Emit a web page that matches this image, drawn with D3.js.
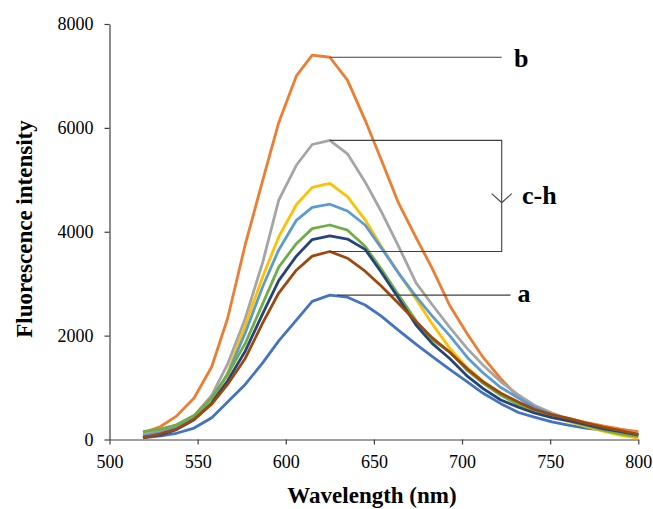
<!DOCTYPE html>
<html>
<head>
<meta charset="utf-8">
<script src="https://cdn.jsdelivr.net/npm/d3@7"></script>
<style>
  html, body { margin: 0; padding: 0; background: #fff; }
  svg { display: block; font-family: "Liberation Serif", "Times New Roman", serif; }
  .axis path, .axis line { stroke: #404040; stroke-width: 1.2; }
  .axis text { font-family: "Liberation Serif", "Times New Roman", serif; font-size: 18px; fill: #000; }
  .title { font-size: 23px; font-weight: bold; fill: #000; }
  .tag { font-size: 26px; font-weight: bold; fill: #000; }
  .leader { stroke: #404040; stroke-width: 1.1; fill: none; }
</style>
</head>
<body>
<div id="chart"></div>
<script>
const W = 653, H = 509;

// wavelength (nm)
const wavelengths = [519, 529, 538, 548, 558, 567, 577, 587, 596, 606, 615, 625, 635, 645, 654,
                     664, 674, 683, 693, 703, 712, 722, 732, 741, 751, 761, 770, 780, 790, 800];

// series a..h (Excel default colour order)
const seriesA = [30, 70, 120, 220, 420, 720, 1060, 1480, 1900, 2300, 2660, 2780, 2740, 2590, 2380,
                 2100, 1830, 1600, 1350, 1110, 890, 690, 520, 430, 340, 270, 220, 180, 140, 100];
const seriesB = [130, 250, 450, 800, 1400, 2330, 3750, 5000, 6100, 7000, 7400, 7360, 6920, 6150, 5400,
                 4550, 3880, 3300, 2580, 2030, 1580, 1170, 820, 590, 480, 400, 330, 260, 200, 150];
const seriesC = [90, 170, 280, 460, 850, 1450, 2330, 3420, 4610, 5280, 5680, 5760, 5500, 4960, 4400,
                 3720, 3010, 2600, 2160, 1750, 1430, 1110, 860, 660, 510, 380, 300, 230, 170, 115];
const seriesD = [70, 120, 220, 400, 720, 1280, 2200, 3140, 3900, 4520, 4855, 4930, 4675, 4230, 3730,
                 3210, 2700, 2230, 1760, 1380, 1120, 890, 690, 540, 430, 340, 250, 160, 80, 25];
const seriesE = [70, 130, 230, 440, 800, 1250, 2050, 2950, 3650, 4220, 4470, 4530, 4400, 4130, 3700,
                 3200, 2750, 2380, 2000, 1580, 1280, 1000, 800, 620, 480, 380, 300, 220, 150, 80];
const seriesF = [150, 200, 280, 460, 800, 1250, 1850, 2620, 3320, 3770, 4060, 4130, 4030, 3720, 3290,
                 2780, 2280, 1920, 1690, 1330, 1080, 850, 670, 540, 440, 360, 270, 180, 110, 55];
const seriesG = [40, 90, 190, 380, 700, 1130, 1700, 2430, 3060, 3530, 3850, 3920, 3860, 3660, 3230,
                 2720, 2200, 1850, 1560, 1220, 980, 760, 620, 510, 420, 360, 290, 210, 150, 90];
const seriesH = [30, 110, 200, 390, 680, 1060, 1560, 2250, 2820, 3260, 3530, 3620, 3490, 3240, 2960,
                 2620, 2270, 1960, 1680, 1360, 1110, 890, 720, 580, 480, 400, 320, 240, 170, 100];

const seriesList = [seriesA, seriesB, seriesC, seriesD, seriesE, seriesF, seriesG, seriesH];
const colors = ["#4472C4", "#ED7D31", "#A5A5A5", "#FFC000", "#5B9BD5", "#70AD47", "#264478", "#9E480E"];

const xTicks = [500, 550, 600, 650, 700, 750, 800];
const yTicks = [0, 2000, 4000, 6000, 8000];

const x = d3.scaleLinear().domain([500, 800]).range([109.5, 638.3]);
const y = d3.scaleLinear().domain([0, 8000]).range([439.5, 24]);

const svg = d3.select("#chart").append("svg")
    .attr("width", W)
    .attr("height", H);

// axes
svg.append("g")
    .attr("class", "axis")
    .attr("transform", `translate(0,${y(0)})`)
    .call(d3.axisBottom(x).tickValues(xTicks).tickSize(5).tickSizeOuter(0).tickPadding(11).tickFormat(d3.format("d")));

svg.append("g")
    .attr("class", "axis")
    .attr("transform", `translate(${x(500)},0)`)
    .call(d3.axisLeft(y).tickValues(yTicks).tickSize(5).tickSizeOuter(0).tickPadding(11).tickFormat(d3.format("d")));

svg.selectAll(".axis").attr("font-family", null).attr("font-size", null);

// curves
const line = d3.line()
    .x((d, i) => x(wavelengths[i]))
    .y(d => y(d));

svg.append("g")
    .selectAll("path")
    .data(seriesList)
    .join("path")
    .attr("d", line)
    .attr("fill", "none")
    .attr("stroke", (d, i) => colors[i])
    .attr("stroke-width", 2.8)
    .attr("stroke-linejoin", "round");

// annotations
const peakI = 11;
const leaderEnd = 722.5;

// b
svg.append("line").attr("class", "leader")
    .attr("x1", x(wavelengths[peakI])).attr("y1", y(seriesB[peakI]))
    .attr("x2", x(leaderEnd)).attr("y2", y(seriesB[peakI]));
svg.append("text").attr("class", "tag")
    .attr("x", x(729.5)).attr("y", y(seriesB[peakI]) + 10)
    .text("b");

// c-h bracket
svg.append("path").attr("class", "leader")
    .attr("d", `M${x(wavelengths[peakI])},${y(seriesC[peakI])} H${x(leaderEnd)} V${y(seriesH[peakI])} H${x(wavelengths[peakI])}`);
const tipY = y(4560);
svg.append("path").attr("class", "leader")
    .attr("d", `M${x(leaderEnd) - 10},${tipY - 9} L${x(leaderEnd)},${tipY} L${x(leaderEnd) + 10},${tipY - 9}`);
svg.append("text").attr("class", "tag")
    .attr("x", x(734)).attr("y", tipY + 1)
    .text("c-h");

// a
svg.append("line").attr("class", "leader")
    .attr("x1", x(629)).attr("y1", y(seriesA[peakI]))
    .attr("x2", x(727.5)).attr("y2", y(seriesA[peakI]));
svg.append("text").attr("class", "tag")
    .attr("x", x(731.5)).attr("y", y(seriesA[peakI]) + 7)
    .text("a");

// axis titles
svg.append("text").attr("class", "title")
    .attr("text-anchor", "middle")
    .attr("x", 372).attr("y", 503)
    .text("Wavelength (nm)");

svg.append("text").attr("class", "title")
    .attr("text-anchor", "middle")
    .attr("transform", "translate(32,229) rotate(-90)")
    .text("Fluorescence intensity");
</script>
</body>
</html>
